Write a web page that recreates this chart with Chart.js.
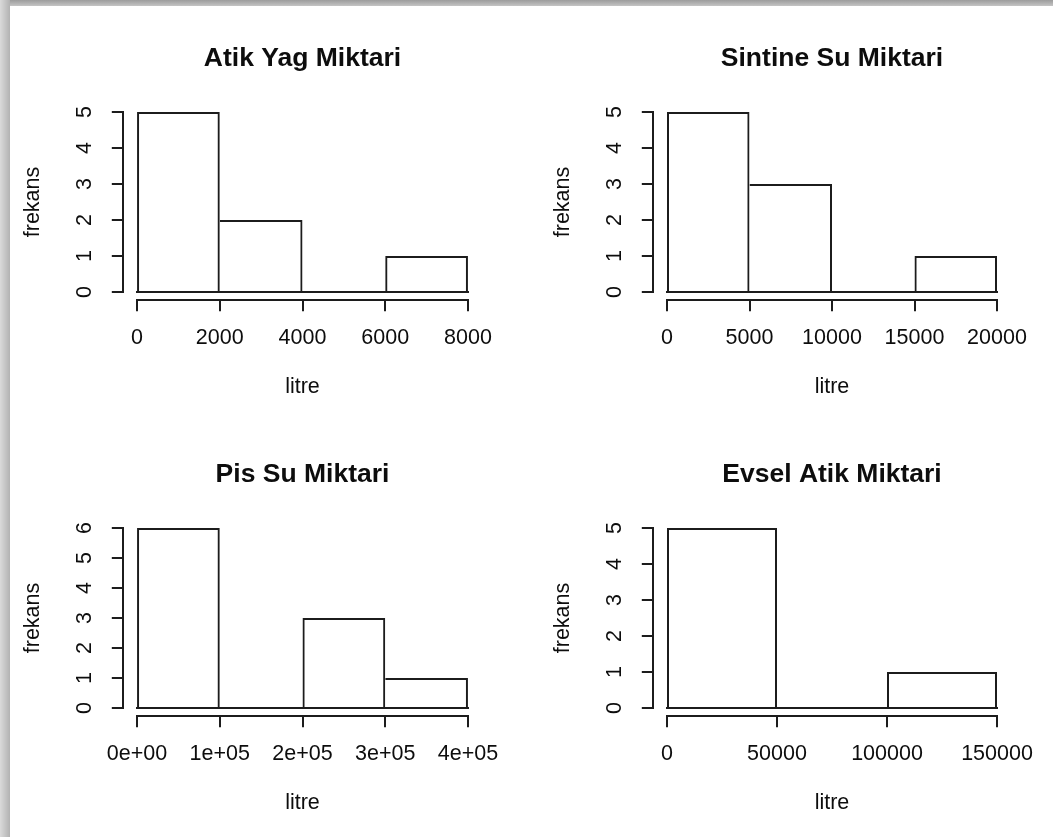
<!DOCTYPE html>
<html>
<head>
<meta charset="utf-8">
<script src="https://cdn.jsdelivr.net/npm/chart.js@4.4.1/dist/chart.umd.min.js"></script>
<style>
  html, body { margin: 0; padding: 0; background: #ffffff; width: 1053px; height: 837px; overflow: hidden; }
  #frameTop { position: absolute; left: 0; top: 0; width: 1053px; height: 6px; background: linear-gradient(#9c9c9c, #c4c4c4); }
  #frameLeft { position: absolute; left: 0; top: 0; width: 10px; height: 837px; background: linear-gradient(to right, #dadada, #b2b2b2); }
  canvas { position: absolute; left: 0; top: 0; }
</style>
</head>
<body>
<div id="frameTop"></div>
<div id="frameLeft"></div>
<canvas id="c1" width="1053" height="837"></canvas>
<canvas id="c2" width="1053" height="837"></canvas>
<canvas id="c3" width="1053" height="837"></canvas>
<canvas id="c4" width="1053" height="837"></canvas>
<script>
// ---------------- data ----------------
const xAxisTitle = 'litre';
const yAxisTitle = 'frekans';

const atikYagTitle = 'Atik Yag Miktari';
const atikYagBreaks = [0, 2000, 4000, 6000, 8000];
const atikYagCounts = [5, 2, 0, 1];
const atikYagTickLabels = ['0', '2000', '4000', '6000', '8000'];
const atikYagYTicks = [0, 1, 2, 3, 4, 5];

const sintineTitle = 'Sintine Su Miktari';
const sintineBreaks = [0, 5000, 10000, 15000, 20000];
const sintineCounts = [5, 3, 0, 1];
const sintineTickLabels = ['0', '5000', '10000', '15000', '20000'];
const sintineYTicks = [0, 1, 2, 3, 4, 5];

const pisSuTitle = 'Pis Su Miktari';
const pisSuBreaks = [0, 100000, 200000, 300000, 400000];
const pisSuCounts = [6, 0, 3, 1];
const pisSuTickLabels = ['0e+00', '1e+05', '2e+05', '3e+05', '4e+05'];
const pisSuYTicks = [0, 1, 2, 3, 4, 5, 6];

const evselTitle = 'Evsel Atik Miktari';
const evselBreaks = [0, 50000, 100000, 150000];
const evselCounts = [5, 0, 1];
const evselTickLabels = ['0', '50000', '100000', '150000'];
const evselYTicks = [0, 1, 2, 3, 4, 5];

// ---------------- style / layout ----------------
const FONT = "'Liberation Sans', Arial, sans-serif";
const LINE = '#1c1c1c';
const TEXT = '#0d0d0d';
const BASE_SIZE = 21.5;
const TITLE_SIZE = 26.5;
const TICK_LEN = 12;
const Y_AXIS_W = 103.7;
const X_AXIS_H = 100.7;
const TITLE_GAP = 30.6;
const CANVAS_W = 1053, CANVAS_H = 837;

Chart.defaults.font.family = FONT;
Chart.defaults.color = TEXT;

// R-style axis lines (span first..last tick) and the histogram baseline
const rAxesPlugin = {
  id: 'rAxes',
  afterDatasetsDraw(chart) {
    const { ctx, chartArea, scales } = chart;
    const x = scales.x, y = scales.y;
    const xs = x.ticks.map(t => x.getPixelForValue(t.value));
    const ys = y.ticks.map(t => y.getPixelForValue(t.value));
    const y0 = Math.round(y.getPixelForValue(0));
    ctx.save();
    ctx.strokeStyle = LINE;
    ctx.lineWidth = 2;
    ctx.beginPath();
    // baseline of the bins
    ctx.moveTo(Math.round(Math.min(...xs)) - 1, y0);
    ctx.lineTo(Math.round(Math.max(...xs)) + 1, y0);
    // x axis
    const yb = Math.round(chartArea.bottom) + 1;
    ctx.moveTo(Math.round(Math.min(...xs)) - 1, yb);
    ctx.lineTo(Math.round(Math.max(...xs)) + 1, yb);
    // y axis
    const xl = Math.round(chartArea.left) - 1;
    ctx.moveTo(xl, Math.round(Math.max(...ys)) + 1);
    ctx.lineTo(xl, Math.round(Math.min(...ys)) - 1);
    ctx.stroke();
    ctx.restore();
  }
};

function makePanel(id, title, breaks, counts, tickLabels, yTicks, area) {
  const xr = breaks[breaks.length - 1] - breaks[0];
  const xmin = breaks[0] - 0.04 * xr, xmax = breaks[breaks.length - 1] + 0.04 * xr;
  const ytop = yTicks[yTicks.length - 1];
  const ymin = -0.04 * ytop, ymax = ytop * 1.04;
  const data = counts.map((c, i) => ({ x: (breaks[i] + breaks[i + 1]) / 2, y: c }));
  const n = counts.length;
  new Chart(document.getElementById(id), {
    type: 'bar',
    data: {
      datasets: [{
        data,
        backgroundColor: 'rgba(0,0,0,0)',
        borderColor: LINE,
        borderSkipped: false,
        inflateAmount: 0,
        minBarLength: 2,
        barPercentage: 1,
        categoryPercentage: 1,
        borderWidth: ctx => {
          const i = ctx.dataIndex;
          const left = (i === 0 || counts[i - 1] < counts[i]) ? 2 : 0;
          const right = (i === n - 1 || counts[i] >= counts[i + 1]) ? 2 : 0;
          return { left, right, top: 2, bottom: counts[i] === 0 ? 2 : 0 };
        }
      }]
    },
    options: {
      responsive: false,
      animation: false,
      events: [],
      layout: {
        padding: {
          left: area.L - Y_AXIS_W,
          right: CANVAS_W - area.R,
          top: area.T - TITLE_SIZE * 1.2 - TITLE_GAP,
          bottom: CANVAS_H - area.B - X_AXIS_H
        }
      },
      plugins: {
        legend: { display: false },
        tooltip: { enabled: false },
        title: {
          display: true,
          text: title,
          fullSize: false,
          color: TEXT,
          font: { family: FONT, size: TITLE_SIZE, weight: 'bold', lineHeight: 1.2 },
          padding: { top: 0, bottom: TITLE_GAP }
        }
      },
      scales: {
        x: {
          type: 'linear',
          offset: false,
          min: xmin,
          max: xmax,
          afterBuildTicks: s => { s.ticks = breaks.map(v => ({ value: v })); },
          afterFit: s => { s.height = X_AXIS_H; },
          border: { display: false },
          grid: { offset: false, drawOnChartArea: false, drawTicks: true, tickLength: TICK_LEN, color: LINE, lineWidth: 2 },
          ticks: {
            autoSkip: false, maxRotation: 0, minRotation: 0, padding: 13.8,
            color: TEXT, font: { family: FONT, size: BASE_SIZE, lineHeight: 1.2 },
            callback: (v, i) => tickLabels[i]
          },
          title: { display: true, text: xAxisTitle, color: TEXT, font: { family: FONT, size: BASE_SIZE, lineHeight: 1.2 }, padding: { top: 0, bottom: 0 } }
        },
        y: {
          type: 'linear',
          min: ymin,
          max: ymax,
          afterBuildTicks: s => { s.ticks = yTicks.map(v => ({ value: v })); },
          afterFit: s => { s.width = Y_AXIS_W; },
          border: { display: false },
          grid: { drawOnChartArea: false, drawTicks: true, tickLength: TICK_LEN, color: LINE, lineWidth: 2 },
          ticks: {
            minRotation: 90, maxRotation: 90, crossAlign: 'center', padding: 20.8,
            color: TEXT, font: { family: FONT, size: BASE_SIZE, lineHeight: 1.2 },
            callback: v => String(v)
          },
          title: { display: true, text: yAxisTitle, color: TEXT, font: { family: FONT, size: BASE_SIZE, lineHeight: 1.2 }, padding: { top: 0, bottom: 0 } }
        }
      }
    },
    plugins: [rAxesPlugin]
  });
}

const topArea = { T: 104.8, B: 299.2 };
const bottomArea = { T: 520.8, B: 715.2 };
const leftCol = { L: 123.8, R: 481.2 };
const rightCol = { L: 653.8, R: 1010.2 };

makePanel('c1', atikYagTitle, atikYagBreaks, atikYagCounts, atikYagTickLabels, atikYagYTicks, { ...leftCol, ...topArea });
makePanel('c2', sintineTitle, sintineBreaks, sintineCounts, sintineTickLabels, sintineYTicks, { ...rightCol, ...topArea });
makePanel('c3', pisSuTitle, pisSuBreaks, pisSuCounts, pisSuTickLabels, pisSuYTicks, { ...leftCol, ...bottomArea });
makePanel('c4', evselTitle, evselBreaks, evselCounts, evselTickLabels, evselYTicks, { ...rightCol, ...bottomArea });
</script>
</body>
</html>
